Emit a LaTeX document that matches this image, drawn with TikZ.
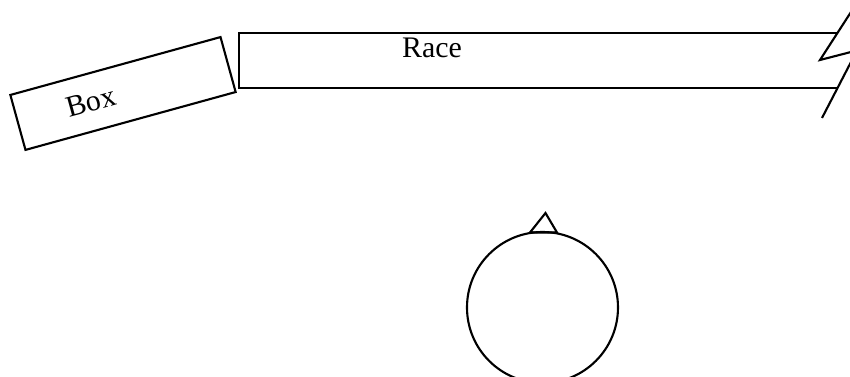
\documentclass[tikz,border=0pt]{standalone}
\usepackage{fontspec}
\setmainfont{Liberation Serif}
\usetikzlibrary{positioning,calc}

\begin{document}
\begin{tikzpicture}[x=0.02cm,y=-0.02cm,line width=1.2pt]
  \tikzstyle{label}=[font=\fontsize{17}{20}\selectfont,inner sep=0pt]
  \useasboundingbox (0,0) rectangle (850,377);
  \clip (0,0) rectangle (850,377);
  % tilted box
  \coordinate (boxc) at (123,93.5);
  \draw[rotate around={15.4:(boxc)}] (14,65) rectangle (232,122);
  \node[label,rotate=15.4] (box) at (91,102) {Box};
  % race, open at the right end
  \coordinate (rtl) at (239,33);
  \coordinate (rbl) at (239,88);
  \draw (838,33) -- (rtl) -- (rbl) -- (837,88);
  \node[label] (race) at (432,48) {Race};
  % break mark
  \draw (851,12) -- (820,60) -- (851,52);
  \draw (851,62) -- (822,118);
  % wheel with pointer
  \coordinate (hub) at (542.5,307.5);
  \draw (hub) circle[radius=75.5];
  \draw (530,232.5) -- (545.5,213) -- (557,232.5) -- cycle;
\end{tikzpicture}
\end{document}
